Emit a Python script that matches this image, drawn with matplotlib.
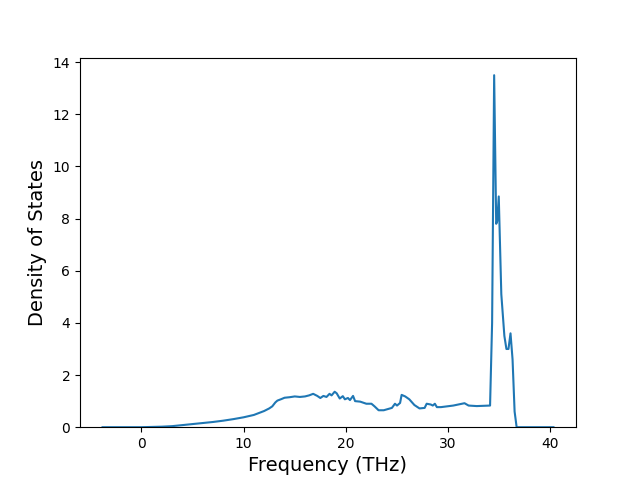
import matplotlib
matplotlib.use('Agg')
import matplotlib.pyplot as plt

# phonon DOS
freq = [-3.8, -2, 0, 1, 2, 3, 4, 5, 6, 7, 8, 9, 10, 11, 12, 12.5, 12.8, 13.1, 13.3,
        13.7, 14, 14.5, 15, 15.5, 16, 16.4, 16.8, 17.2, 17.5, 17.8, 18.1, 18.4,
        18.6, 18.9, 19.1, 19.4, 19.7, 19.9, 20.2, 20.4, 20.7, 20.9, 21.4, 22.0,
        22.5, 22.8, 23.2, 23.7, 24.5, 24.8, 25.0, 25.3, 25.45, 25.8, 26.2, 26.7,
        27.2, 27.7, 27.9, 28.3, 28.5, 28.7, 28.9, 29.3, 30.5, 31.6, 32.0, 32.8,
        34.1, 34.3, 34.5, 34.7, 34.8, 34.95, 35.2, 35.5, 35.7, 35.9, 36.1, 36.3,
        36.5, 36.7, 38, 40.3]
dos = [0, 0, 0, 0.01, 0.02, 0.04, 0.08, 0.12, 0.16, 0.2, 0.25, 0.31, 0.38, 0.47,
       0.62, 0.72, 0.8, 0.95, 1.02, 1.08, 1.13, 1.15, 1.18, 1.16, 1.18, 1.22,
       1.28, 1.2, 1.12, 1.2, 1.16, 1.28, 1.22, 1.36, 1.3, 1.1, 1.19, 1.07, 1.12,
       1.04, 1.2, 1.0, 0.98, 0.9, 0.9, 0.8, 0.65, 0.65, 0.74, 0.9, 0.83, 0.93,
       1.24, 1.18, 1.07, 0.85, 0.72, 0.74, 0.9, 0.87, 0.83, 0.9, 0.77, 0.77,
       0.83, 0.92, 0.83, 0.81, 0.83, 4.0, 13.5, 7.8, 7.9, 8.85, 5.1, 3.5, 3.0,
       3.0, 3.6, 2.6, 0.6, 0, 0, 0]

fig, ax = plt.subplots(figsize=(6.4, 4.8), dpi=100)
ax.plot(freq, dos)
ax.set_ylim(bottom=0)
ax.set_xlabel('Frequency (THz)', fontsize=14)
ax.set_ylabel('Density of States', fontsize=14)
fig.savefig('out.png')
